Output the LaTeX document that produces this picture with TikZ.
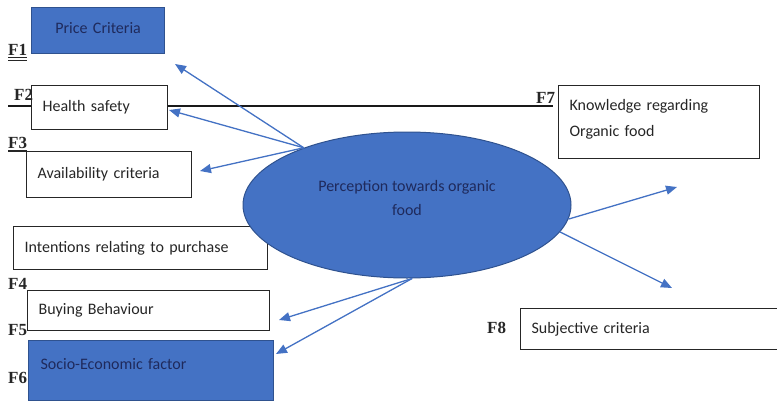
\documentclass[tikz,border=0pt]{standalone}
\usepackage{fontspec}
\setmainfont{Liberation Serif}
\newfontfamily\calfont{Carlito}
\usetikzlibrary{shapes.geometric,arrows.meta}
\definecolor{ofblue}{HTML}{4472C4}
\definecolor{ofdark}{HTML}{2F528F}
\definecolor{navy}{HTML}{1F2A5C}
\begin{document}
\begin{tikzpicture}[x=1pt,y=-1pt,
  box/.style={draw=black!85, line width=1.2pt, fill=white, rectangle, anchor=north west,
    inner xsep=11pt, inner ysep=0pt, align=left, text=black!85,
    font=\calfont\fontsize{16}{26}\selectfont},
  bluebox/.style={box, fill=ofblue, draw=ofdark, text=navy},
  flabel/.style={font=\bfseries\fontsize{17}{20}\selectfont, anchor=base west, inner sep=0pt, text=black!85},
  arr/.style={draw=ofblue, line width=1.3pt, -{Triangle[length=11pt,width=9pt]}, fill=ofblue}]
\useasboundingbox (0,0) rectangle (777,402);

% long black line
\coordinate (lineL) at (8,106);
\coordinate (lineR) at (553,106);
\draw[line width=1.6pt, black!90] (lineL) -- (lineR);

% boxes
\node[bluebox, align=center, minimum width=133pt, minimum height=46pt, text width=111pt, text depth=6pt] (price) at (31,7) {Price Criteria};
\node[box, minimum width=136pt, minimum height=44pt, text width=114pt] (health) at (31,85) {Health safety};
\node[box, minimum width=165pt, minimum height=46pt, text width=143pt] (avail) at (26,151) {Availability criteria};
\node[box, minimum width=254pt, minimum height=43pt, text width=232pt] (intent) at (13,226) {Intentions relating to purchase};
\node[box, minimum width=242pt, minimum height=40pt, text width=220pt] (buying) at (27,290) {Buying Behaviour};
\node[bluebox, minimum width=244pt, minimum height=60pt, text width=221pt, text depth=14pt, inner xsep=12pt] (socio) at (28,340) {Socio-Economic factor};
\node[box, minimum width=201pt, minimum height=73pt, text width=179pt, text depth=34pt] (know) at (558,85) {Knowledge regarding\\Organic food};
\node[box, minimum width=257pt, minimum height=41pt, text width=235pt] (subj) at (520,308) {Subjective criteria};

% F labels
\node[flabel] (f1) at (8,55) {F1};
\draw[line width=0.8pt, black!85] ([yshift=-2.5pt]f1.base west) -- ([yshift=-2.5pt]f1.base east);
\draw[line width=0.8pt, black!85] ([yshift=-5pt]f1.base west) -- ([yshift=-5pt]f1.base east);
\node[flabel] (f2) at (14,100) {F2};
\node[flabel] (f3) at (8,148) {F3};
\draw[line width=1.2pt, black!85] ([yshift=-3pt]f3.base west) -- ([yshift=-3pt]f3.base east);
\node[flabel] (f4) at (8,289) {F4};
\node[flabel] (f5) at (8,335) {F5};
\node[flabel] (f6) at (8,383) {F6};
\node[flabel] (f7) at (536,103) {F7};
\node[flabel] (f8) at (487,333) {F8};

% ellipse
\node[ellipse, fill=ofblue, draw=ofdark, line width=1pt, minimum width=328pt, minimum height=146pt,
  inner sep=0pt, align=center, text=navy, text depth=14pt, font=\calfont\fontsize{16}{24}\selectfont] (ell) at (407,205) {Perception towards organic\\food};

% arrow tips
\coordinate (t1) at (175,64);
\coordinate (t2) at (169,110);
\coordinate (t3) at (200,171);
\coordinate (t4) at (279,320);
\coordinate (t5) at (276,354);
\coordinate (t6) at (677,187);
\coordinate (t7) at (672,288);

\draw[arr] (ell.151) -- (t1);
\draw[arr] (ell.151) -- (t2);
\draw[arr] (ell.151) -- (t3);
\draw[arr] (ell.-86) -- (t4);
\draw[arr] (ell.-86) -- (t5);
\draw[arr] (ell.-5) -- (t6);
\draw[arr] (ell.-10) -- (t7);
\end{tikzpicture}
\end{document}
